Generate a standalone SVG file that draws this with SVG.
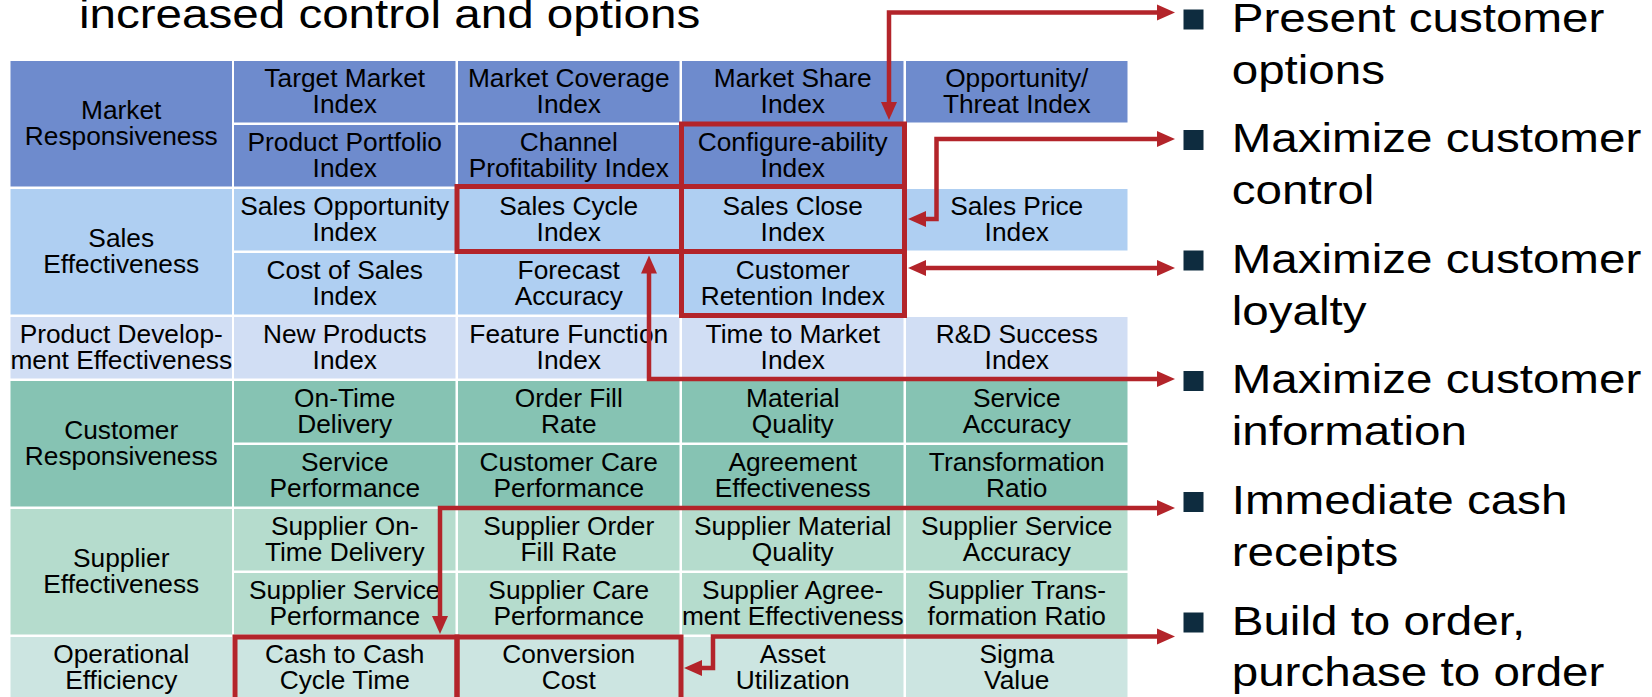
<svg xmlns="http://www.w3.org/2000/svg" width="1652" height="697" viewBox="0 0 1652 697">
<style>
.mr{fill:#6e8bcd}.se{fill:#afcff2}.pd{fill:#d1def4}.cr{fill:#86c3b3}.su{fill:#b5dccd}.oe{fill:#cce5e1}
.t{font-family:"Liberation Sans",Arial,sans-serif;font-size:26.3px;text-anchor:middle;fill:#000}
.big{font-family:"Liberation Sans",Arial,sans-serif;font-size:41px;fill:#000}
.box{fill:none;stroke:#b3242a;stroke-width:5}
.con{fill:none;stroke:#b3242a;stroke-width:4.5;marker-end:url(#ah)}
.dbl{marker-start:url(#ah)}
.bul{fill:#0e2c3f}
</style>
<defs>
<marker id="ah" markerUnits="userSpaceOnUse" markerWidth="20" markerHeight="20" viewBox="0 -10 20 20" refX="1" refY="0" orient="auto-start-reverse">
<path d="M0,-8 L18,0 L0,8 z" fill="#b3242a"/>
</marker>
</defs>
<rect width="1652" height="697" fill="#fff"/>

<text class="big" transform="translate(79 28.3) scale(1.16 1)">increased control and options</text>

<!-- Row 1-2 Market Responsiveness -->
<g id="cat-market"><rect class="mr" x="10.5" y="61" width="221.5" height="125.5"/><text class="t"><tspan x="121.25" y="118.5">Market</tspan><tspan x="121.25" y="144.5">Responsiveness</tspan></text></g>
<g id="target-market"><rect class="mr" x="234" y="61" width="221.5" height="61.5"/><text class="t"><tspan x="344.75" y="86.5">Target Market</tspan><tspan x="344.75" y="113">Index</tspan></text></g>
<g id="market-coverage"><rect class="mr" x="458" y="61" width="221.5" height="61.5"/><text class="t"><tspan x="568.75" y="86.5">Market Coverage</tspan><tspan x="568.75" y="113">Index</tspan></text></g>
<g id="market-share"><rect class="mr" x="682" y="61" width="221.5" height="61.5"/><text class="t"><tspan x="792.75" y="86.5">Market Share</tspan><tspan x="792.75" y="113">Index</tspan></text></g>
<g id="opportunity"><rect class="mr" x="906" y="61" width="221.5" height="61.5"/><text class="t"><tspan x="1016.75" y="86.5">Opportunity/</tspan><tspan x="1016.75" y="113">Threat Index</tspan></text></g>
<g id="product-portfolio"><rect class="mr" x="234" y="125" width="221.5" height="61.5"/><text class="t"><tspan x="344.75" y="150.5">Product Portfolio</tspan><tspan x="344.75" y="177">Index</tspan></text></g>
<g id="channel-profit"><rect class="mr" x="458" y="125" width="221.5" height="61.5"/><text class="t"><tspan x="568.75" y="150.5">Channel</tspan><tspan x="568.75" y="177">Profitability Index</tspan></text></g>
<g id="configure"><rect class="mr" x="682" y="125" width="221.5" height="61.5"/><text class="t"><tspan x="792.75" y="150.5">Configure-ability</tspan><tspan x="792.75" y="177">Index</tspan></text></g>

<!-- Sales Effectiveness -->
<g id="cat-sales"><rect class="se" x="10.5" y="189" width="221.5" height="125.5"/><text class="t"><tspan x="121.25" y="246.5">Sales</tspan><tspan x="121.25" y="272.5">Effectiveness</tspan></text></g>
<g id="sales-opp"><rect class="se" x="234" y="189" width="221.5" height="61.5"/><text class="t"><tspan x="344.75" y="214.5">Sales Opportunity</tspan><tspan x="344.75" y="241">Index</tspan></text></g>
<g id="sales-cycle"><rect class="se" x="458" y="189" width="221.5" height="61.5"/><text class="t"><tspan x="568.75" y="214.5">Sales Cycle</tspan><tspan x="568.75" y="241">Index</tspan></text></g>
<g id="sales-close"><rect class="se" x="682" y="189" width="221.5" height="61.5"/><text class="t"><tspan x="792.75" y="214.5">Sales Close</tspan><tspan x="792.75" y="241">Index</tspan></text></g>
<g id="sales-price"><rect class="se" x="906" y="189" width="221.5" height="61.5"/><text class="t"><tspan x="1016.75" y="214.5">Sales Price</tspan><tspan x="1016.75" y="241">Index</tspan></text></g>
<g id="cost-sales"><rect class="se" x="234" y="253" width="221.5" height="61.5"/><text class="t"><tspan x="344.75" y="278.5">Cost of Sales</tspan><tspan x="344.75" y="305">Index</tspan></text></g>
<g id="forecast"><rect class="se" x="458" y="253" width="221.5" height="61.5"/><text class="t"><tspan x="568.75" y="278.5">Forecast</tspan><tspan x="568.75" y="305">Accuracy</tspan></text></g>
<g id="retention"><rect class="se" x="682" y="253" width="221.5" height="61.5"/><text class="t"><tspan x="792.75" y="278.5">Customer</tspan><tspan x="792.75" y="305">Retention Index</tspan></text></g>

<!-- Product Development -->
<g id="cat-product"><rect class="pd" x="10.5" y="317" width="221.5" height="61.5"/><text class="t"><tspan x="121.25" y="342.5">Product Develop-</tspan><tspan x="121.25" y="369">ment Effectiveness</tspan></text></g>
<g id="new-products"><rect class="pd" x="234" y="317" width="221.5" height="61.5"/><text class="t"><tspan x="344.75" y="342.5">New Products</tspan><tspan x="344.75" y="369">Index</tspan></text></g>
<g id="feature-function"><rect class="pd" x="458" y="317" width="221.5" height="61.5"/><text class="t"><tspan x="568.75" y="342.5">Feature Function</tspan><tspan x="568.75" y="369">Index</tspan></text></g>
<g id="time-market"><rect class="pd" x="682" y="317" width="221.5" height="61.5"/><text class="t"><tspan x="792.75" y="342.5">Time to Market</tspan><tspan x="792.75" y="369">Index</tspan></text></g>
<g id="rd-success"><rect class="pd" x="906" y="317" width="221.5" height="61.5"/><text class="t"><tspan x="1016.75" y="342.5">R&amp;D Success</tspan><tspan x="1016.75" y="369">Index</tspan></text></g>

<!-- Customer Responsiveness -->
<g id="cat-customer"><rect class="cr" x="10.5" y="381" width="221.5" height="125.5"/><text class="t"><tspan x="121.25" y="438.5">Customer</tspan><tspan x="121.25" y="464.5">Responsiveness</tspan></text></g>
<g id="on-time"><rect class="cr" x="234" y="381" width="221.5" height="61.5"/><text class="t"><tspan x="344.75" y="406.5">On-Time</tspan><tspan x="344.75" y="433">Delivery</tspan></text></g>
<g id="order-fill"><rect class="cr" x="458" y="381" width="221.5" height="61.5"/><text class="t"><tspan x="568.75" y="406.5">Order Fill</tspan><tspan x="568.75" y="433">Rate</tspan></text></g>
<g id="material-quality"><rect class="cr" x="682" y="381" width="221.5" height="61.5"/><text class="t"><tspan x="792.75" y="406.5">Material</tspan><tspan x="792.75" y="433">Quality</tspan></text></g>
<g id="service-accuracy"><rect class="cr" x="906" y="381" width="221.5" height="61.5"/><text class="t"><tspan x="1016.75" y="406.5">Service</tspan><tspan x="1016.75" y="433">Accuracy</tspan></text></g>
<g id="service-perf"><rect class="cr" x="234" y="445" width="221.5" height="61.5"/><text class="t"><tspan x="344.75" y="470.5">Service</tspan><tspan x="344.75" y="497">Performance</tspan></text></g>
<g id="care-perf"><rect class="cr" x="458" y="445" width="221.5" height="61.5"/><text class="t"><tspan x="568.75" y="470.5">Customer Care</tspan><tspan x="568.75" y="497">Performance</tspan></text></g>
<g id="agreement"><rect class="cr" x="682" y="445" width="221.5" height="61.5"/><text class="t"><tspan x="792.75" y="470.5">Agreement</tspan><tspan x="792.75" y="497">Effectiveness</tspan></text></g>
<g id="transformation"><rect class="cr" x="906" y="445" width="221.5" height="61.5"/><text class="t"><tspan x="1016.75" y="470.5">Transformation</tspan><tspan x="1016.75" y="497">Ratio</tspan></text></g>

<!-- Supplier Effectiveness -->
<g id="cat-supplier"><rect class="su" x="10.5" y="509" width="221.5" height="125.5"/><text class="t"><tspan x="121.25" y="566.5">Supplier</tspan><tspan x="121.25" y="592.5">Effectiveness</tspan></text></g>
<g id="sup-on-time"><rect class="su" x="234" y="509" width="221.5" height="61.5"/><text class="t"><tspan x="344.75" y="534.5">Supplier On-</tspan><tspan x="344.75" y="561">Time Delivery</tspan></text></g>
<g id="sup-order-fill"><rect class="su" x="458" y="509" width="221.5" height="61.5"/><text class="t"><tspan x="568.75" y="534.5">Supplier Order</tspan><tspan x="568.75" y="561">Fill Rate</tspan></text></g>
<g id="sup-material"><rect class="su" x="682" y="509" width="221.5" height="61.5"/><text class="t"><tspan x="792.75" y="534.5">Supplier Material</tspan><tspan x="792.75" y="561">Quality</tspan></text></g>
<g id="sup-service-acc"><rect class="su" x="906" y="509" width="221.5" height="61.5"/><text class="t"><tspan x="1016.75" y="534.5">Supplier Service</tspan><tspan x="1016.75" y="561">Accuracy</tspan></text></g>
<g id="sup-service-perf"><rect class="su" x="234" y="573" width="221.5" height="61.5"/><text class="t"><tspan x="344.75" y="598.5">Supplier Service</tspan><tspan x="344.75" y="625">Performance</tspan></text></g>
<g id="sup-care"><rect class="su" x="458" y="573" width="221.5" height="61.5"/><text class="t"><tspan x="568.75" y="598.5">Supplier Care</tspan><tspan x="568.75" y="625">Performance</tspan></text></g>
<g id="sup-agree"><rect class="su" x="682" y="573" width="221.5" height="61.5"/><text class="t"><tspan x="792.75" y="598.5">Supplier Agree-</tspan><tspan x="792.75" y="625">ment Effectiveness</tspan></text></g>
<g id="sup-trans"><rect class="su" x="906" y="573" width="221.5" height="61.5"/><text class="t"><tspan x="1016.75" y="598.5">Supplier Trans-</tspan><tspan x="1016.75" y="625">formation Ratio</tspan></text></g>

<!-- Operational Efficiency -->
<g id="cat-operational"><rect class="oe" x="10.5" y="637" width="221.5" height="61.5"/><text class="t"><tspan x="121.25" y="662.5">Operational</tspan><tspan x="121.25" y="689">Efficiency</tspan></text></g>
<g id="cash-to-cash"><rect class="oe" x="234" y="637" width="221.5" height="61.5"/><text class="t"><tspan x="344.75" y="662.5">Cash to Cash</tspan><tspan x="344.75" y="689">Cycle Time</tspan></text></g>
<g id="conversion"><rect class="oe" x="458" y="637" width="221.5" height="61.5"/><text class="t"><tspan x="568.75" y="662.5">Conversion</tspan><tspan x="568.75" y="689">Cost</tspan></text></g>
<g id="asset"><rect class="oe" x="682" y="637" width="221.5" height="61.5"/><text class="t"><tspan x="792.75" y="662.5">Asset</tspan><tspan x="792.75" y="689">Utilization</tspan></text></g>
<g id="sigma"><rect class="oe" x="906" y="637" width="221.5" height="61.5"/><text class="t"><tspan x="1016.75" y="662.5">Sigma</tspan><tspan x="1016.75" y="689">Value</tspan></text></g>

<!-- highlight boxes -->
<g id="highlights">
<rect class="box" x="681.5" y="124" width="223" height="62.5"/>
<rect class="box" x="457" y="186.5" width="224.5" height="65"/>
<rect class="box" x="681.5" y="186.5" width="223" height="65"/>
<rect class="box" x="681.5" y="251.5" width="223" height="64"/>
<rect class="box" x="235" y="637" width="222" height="70"/>
<rect class="box" x="457" y="637" width="224" height="70"/>
</g>

<!-- bullets -->
<g id="bullet-options"><rect class="bul" x="1183.5" y="9.5" width="20" height="20"/><text class="big" transform="translate(1231.7 32) scale(1.16 1)"><tspan x="0" y="0">Present customer</tspan><tspan x="0" y="52">options</tspan></text></g>
<g id="bullet-control"><rect class="bul" x="1183.5" y="130" width="20" height="20"/><text class="big" transform="translate(1231.7 152.4) scale(1.16 1)"><tspan x="0" y="0">Maximize customer</tspan><tspan x="0" y="52">control</tspan></text></g>
<g id="bullet-loyalty"><rect class="bul" x="1183.5" y="250.5" width="20" height="20"/><text class="big" transform="translate(1231.7 272.8) scale(1.16 1)"><tspan x="0" y="0">Maximize customer</tspan><tspan x="0" y="52">loyalty</tspan></text></g>
<g id="bullet-information"><rect class="bul" x="1183.5" y="371" width="20" height="20"/><text class="big" transform="translate(1231.7 393.2) scale(1.16 1)"><tspan x="0" y="0">Maximize customer</tspan><tspan x="0" y="52">information</tspan></text></g>
<g id="bullet-cash"><rect class="bul" x="1183.5" y="492" width="20" height="20"/><text class="big" transform="translate(1231.7 514) scale(1.16 1)"><tspan x="0" y="0">Immediate cash</tspan><tspan x="0" y="52">receipts</tspan></text></g>
<g id="bullet-build"><rect class="bul" x="1183.5" y="612.5" width="20" height="20"/><text class="big" transform="translate(1231.7 634.5) scale(1.16 1)"><tspan x="0" y="0">Build to order,</tspan><tspan x="0" y="52">purchase to order</tspan></text></g>

<!-- connectors -->
<g id="connectors">
<path class="con dbl" d="M889,103 V12.5 H1158"/>
<path class="con dbl" d="M925,219 H936.5 V139 H1158"/>
<path class="con dbl" d="M925,268 H1158"/>
<path class="con dbl" d="M649,272.5 V379 H1158"/>
<path class="con dbl" d="M440,617 V508 H1158"/>
<path class="con dbl" d="M701,668 H713 V636.5 H1158"/>
</g>
</svg>
